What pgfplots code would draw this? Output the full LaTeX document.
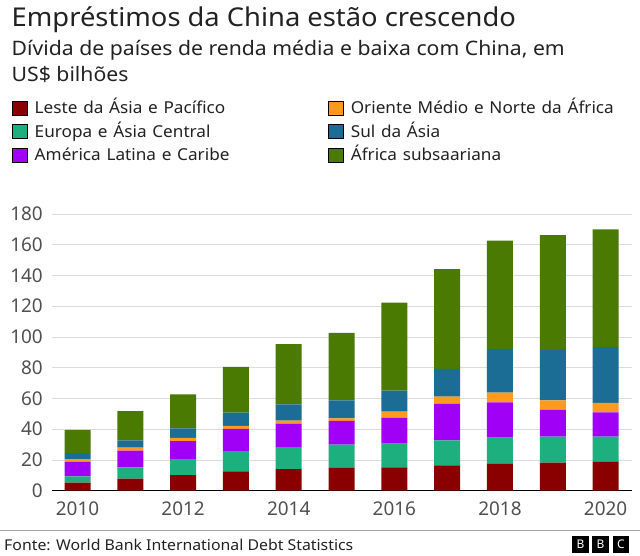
\documentclass[border=0pt]{standalone}
\usepackage{fontspec}
\setmainfont{Noto Sans}
\usepackage{graphicx}
\usepackage{pgfplots}
\pgfplotsset{compat=1.18}
\definecolor{c1}{HTML}{8A0000}
\definecolor{c2}{HTML}{1DB07E}
\definecolor{c3}{HTML}{A000F5}
\definecolor{c4}{HTML}{FF9A1F}
\definecolor{c5}{HTML}{1B6D96}
\definecolor{c6}{HTML}{4A7A02}
\definecolor{gridgray}{HTML}{DCDCDC}
\definecolor{tickgray}{HTML}{505050}
\definecolor{titlegray}{HTML}{222222}
\pgfplotsset{
  sqlegend/.style={legend image code/.code={\fill[##1] (0bp,-7bp) rectangle (14.4bp,7bp);}}
}
\newcommand{\legtxt}[1]{\scalebox{1.045}[1]{#1}}
\begin{document}
\begin{tikzpicture}
\path[use as bounding box] (0bp,0bp) rectangle (640bp,556bp);
\begin{axis}[
  at={(52bp,65.3bp)}, anchor=south west,
  scale only axis, width=580bp, height=276.7bp,
  xmin=-0.483, xmax=10.5, ymin=0, ymax=180,
  ybar stacked, bar width=26bp,
  axis x line*=bottom, axis y line*=left,
  x axis line style={black, line width=1.4bp},
  y axis line style={draw=none},
  tick style={draw=none},
  ytick={0,20,...,180},
  xtick={0,2,4,6,8,10},
  xticklabels={2010,2012,2014,2016,2018,2020},
  ymajorgrids, grid style={color=gridgray, line width=0.9bp},
  /pgf/number format/assume math mode=true,
  ticklabel style={font=\fontsize{19}{19}\selectfont, text=tickgray},
  yticklabel style={anchor=east, inner sep=0pt, xshift=-9bp},
  xticklabel style={anchor=north, inner sep=0pt, yshift=-11bp},
  legend columns=2,
  legend cell align=left,
  legend style={at={(-0.0684,1.4084)}, anchor=north west, draw=none, fill=none,
    inner sep=0pt, outer sep=0pt, row sep=9bp, column sep=0pt,
    font=\fontsize{16.5}{16.5}\selectfont, text=titlegray,
    nodes={inner sep=0pt, text width=293.7bp, text height=11.5bp, text depth=0bp},
    /tikz/every odd column/.append style={column sep=7.6bp}},
]
\addplot[forget plot, fill=c1, draw=none] coordinates {(0,5.2) (1,7.8) (2,10.2) (3,12.6) (4,14.1) (5,14.8) (6,15.2) (7,16.5) (8,17.4) (9,18.2) (10,18.7)};
\addplot[forget plot, fill=c2, draw=none] coordinates {(0,4.1) (1,7.4) (2,10.4) (3,13.2) (4,14.3) (5,15.2) (6,15.4) (7,16.3) (8,17.1) (9,17.0) (10,16.5)};
\addplot[forget plot, fill=c3, draw=none] coordinates {(0,9.4) (1,10.9) (2,11.7) (3,14.4) (4,15.2) (5,15.4) (6,16.7) (7,23.9) (8,23.0) (9,17.3) (10,15.8)};
\addplot[forget plot, fill=c4, draw=none] coordinates {(0,1.9) (1,1.9) (2,2.0) (3,1.9) (4,2.0) (5,1.7) (6,4.2) (7,4.5) (8,6.3) (9,6.3) (10,6.1)};
\addplot[forget plot, fill=c5, draw=none] coordinates {(0,3.9) (1,4.8) (2,6.3) (3,8.7) (4,10.6) (5,11.7) (6,13.6) (7,18.0) (8,28.5) (9,32.8) (10,36.3)};
\addplot[forget plot, fill=c6, draw=none] coordinates {(0,15.0) (1,18.9) (2,22.1) (3,29.7) (4,39.1) (5,43.9) (6,57.3) (7,65.0) (8,70.3) (9,74.7) (10,76.6)};
\addlegendimage{sqlegend, fill=c1}
\addlegendentry{\legtxt{Leste da Ásia e Pacífico}}
\addlegendimage{sqlegend, fill=c4}
\addlegendentry{\legtxt{Oriente Médio e Norte da África}}
\addlegendimage{sqlegend, fill=c2}
\addlegendentry{\legtxt{Europa e Ásia Central}}
\addlegendimage{sqlegend, fill=c5}
\addlegendentry{\legtxt{Sul da Ásia}}
\addlegendimage{sqlegend, fill=c3}
\addlegendentry{\legtxt{América Latina e Caribe}}
\addlegendimage{sqlegend, fill=c6}
\addlegendentry{\legtxt{África subsaariana}}
\end{axis}
\node[anchor=base west, inner sep=0pt, text=titlegray, font=\fontsize{26}{26}\selectfont] at (11.5bp,529.3bp) {\scalebox{1.055}[1]{Empréstimos da China estão crescendo}};
\node[anchor=base west, inner sep=0pt, text=titlegray, font=\fontsize{20}{20}\selectfont] at (11.5bp,500bp) {\scalebox{1.064}[1]{Dívida de países de renda média e baixa com China, em}};
\node[anchor=base west, inner sep=0pt, text=titlegray, font=\fontsize{20}{20}\selectfont] at (11.5bp,474.3bp) {\scalebox{1.064}[1]{US\$ bilhões}};
\draw[color=gray!70, line width=1bp] (0bp,25bp) -- (640bp,25bp);
\node[anchor=base west, inner sep=0pt, text=titlegray, font=\fontsize{15}{15}\selectfont] at (4bp,6bp) {\scalebox{1.06}[1]{Fonte: World Bank International Debt Statistics}};
\fill[black] (572bp,3bp) rectangle (588.8bp,20bp);
\fill[black] (592bp,3bp) rectangle (608.8bp,20bp);
\fill[black] (612.5bp,3bp) rectangle (629.3bp,20bp);
\node[text=white, font=\bfseries\fontsize{12}{12}\selectfont, inner sep=0pt] at (580.4bp,11.5bp) {B};
\node[text=white, font=\bfseries\fontsize{12}{12}\selectfont, inner sep=0pt] at (600.4bp,11.5bp) {B};
\node[text=white, font=\bfseries\fontsize{12}{12}\selectfont, inner sep=0pt] at (620.9bp,11.5bp) {C};
\end{tikzpicture}
\end{document}
